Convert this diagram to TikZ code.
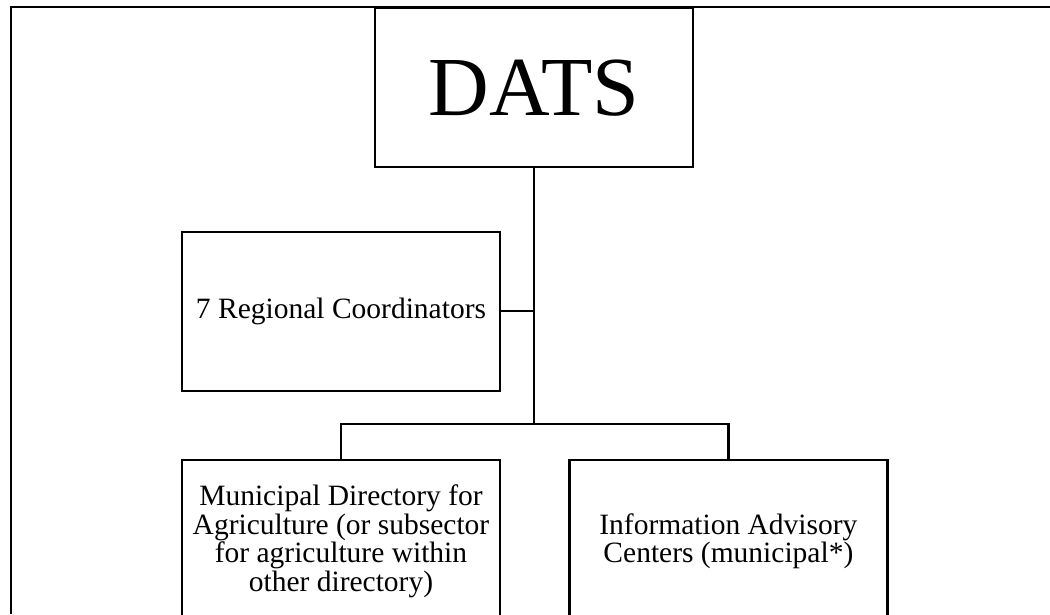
\documentclass[tikz,border=0pt]{standalone}
\usepackage{fontspec}
\setmainfont{Liberation Serif}
\usetikzlibrary{positioning}
\tikzstyle{block} = [rectangle, draw, line width=2.4pt, align=center,
minimum width=318pt, minimum height=159pt, inner sep=0pt,
font=\fontsize{29.5}{28.5}\selectfont]
\tikzstyle{topblock} = [block, font=\fontsize{84}{84}\selectfont]
\tikzstyle{line} = [draw, line width=2.4pt]

\begin{document}
\begin{tikzpicture}[x=1pt, y=1pt, node distance = 67pt]
\useasboundingbox (0,0) rectangle (1050,614);
\clip (0,0) rectangle (1050,614);
\node [topblock, anchor=north] (dats) at (534,607) {DATS};
\node [block, anchor=north, minimum height=162pt] (mda) at (341,155) {Municipal Directory for\\Agriculture (or subsector\\for agriculture within\\other directory)};
\node [block, anchor=north, minimum height=162pt, right = of mda.north east, anchor=north west] (iac) {Information Advisory\\Centers (municipal*)};
\node [block, above = of mda] (regional) {7 Regional Coordinators};

% frame
\coordinate (fl) at (11,0);
\coordinate (ftl) at (11,607);
\coordinate (ftr) at (1050,607);
\draw [line] (fl) -- (ftl) -- (ftr);

% connectors
\coordinate (split) at (dats.south |- 0,190);
\path [line] (dats.south) -- (split);
\path [line] (regional.east) -- (regional.east -| split);
\path [line] (mda.north) |- (split) -| (iac.north);
\end{tikzpicture}
\end{document}
